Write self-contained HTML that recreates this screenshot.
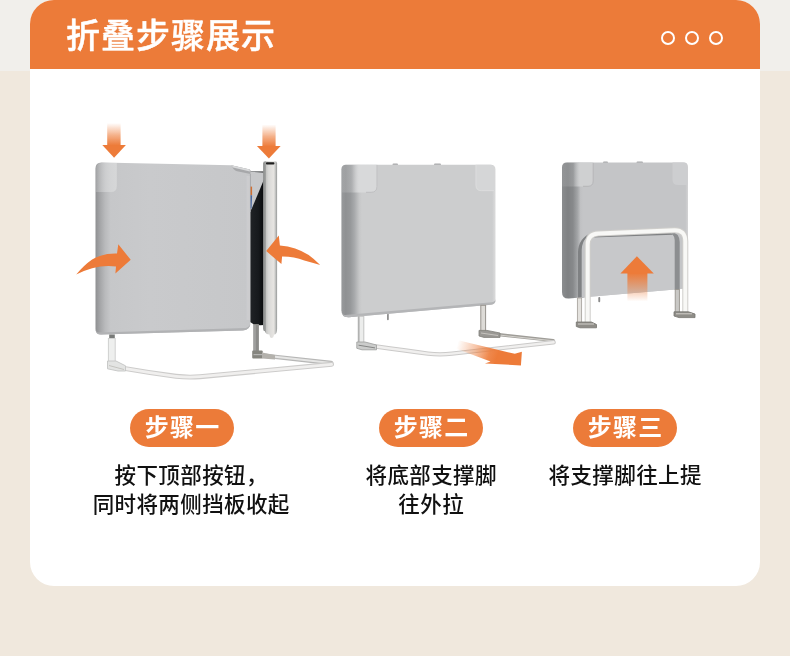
<!DOCTYPE html>
<html lang="zh-CN">
<head>
<meta charset="utf-8">
<title>折叠步骤展示</title>
<style>
*{margin:0;padding:0;box-sizing:border-box}
html,body{width:790px;height:656px;overflow:hidden}
body{position:relative;background:#f0e8dd;font-family:"Liberation Sans","Noto Sans CJK SC",sans-serif;color:#161616}
.topbg{position:absolute;left:0;top:0;width:790px;height:70.5px;background:#f1efeb}
.card{position:absolute;left:30px;top:0;width:730px;height:586px;background:#fff;border-radius:24px;overflow:hidden}
.head{position:absolute;left:0;top:0;width:730px;height:69px;background:#ec7b39}
.title{will-change:transform;position:absolute;left:66px;top:11px;height:50px;line-height:50px;font-size:34px;font-weight:500;-webkit-text-stroke:0.45px #fff;color:#fff;white-space:nowrap;letter-spacing:1px}
.dot{position:absolute;top:31px;width:14px;height:14px;border:2px solid #fff;border-radius:50%}
.art{position:absolute;left:0;top:0;width:790px;height:656px}
.badge{will-change:transform;position:absolute;top:408.5px;width:104px;height:37.5px;border-radius:19px;background:#ec7b39;color:#fff;font-size:24px;font-weight:700;line-height:37.5px;text-align:center;white-space:nowrap;letter-spacing:1.3px;padding-left:1.3px}
.desc{will-change:transform;position:absolute;font-size:21.5px;font-weight:500;letter-spacing:0.4px;padding-left:0.4px;line-height:30px;height:30px;text-align:center;white-space:nowrap;color:#111}
.l1{top:460.500px}
.l2{top:490px}
</style>
</head>
<body>
<div class="topbg"></div>
<div class="card"><div class="head"></div></div>
<div class="title">折叠步骤展示</div>
<div class="dot" style="left:661px"></div>
<div class="dot" style="left:685px"></div>
<div class="dot" style="left:709px"></div>
<svg class="art" viewBox="0 0 790 656">
<defs>
<linearGradient id="gdown" x1="0" y1="0" x2="0" y2="1"><stop offset="0" stop-color="#ed7b39" stop-opacity="0"/><stop offset="0.55" stop-color="#ed7b39" stop-opacity="0.6"/><stop offset="1" stop-color="#ed7b39"/></linearGradient>
<linearGradient id="gup" x1="0" y1="1" x2="0" y2="0"><stop offset="0" stop-color="#ed7b39" stop-opacity="0"/><stop offset="0.5" stop-color="#ed7b39" stop-opacity="0.5"/><stop offset="1" stop-color="#ed7b39"/></linearGradient>
<linearGradient id="gpull" gradientUnits="userSpaceOnUse" x1="458" y1="342" x2="498" y2="354"><stop offset="0" stop-color="#ed7b39" stop-opacity="0"/><stop offset="0.45" stop-color="#ed7b39" stop-opacity="0.45"/><stop offset="0.8" stop-color="#ed7b39" stop-opacity="0.9"/><stop offset="1" stop-color="#ed7b39"/></linearGradient>
<linearGradient id="p1" gradientUnits="userSpaceOnUse" x1="95" y1="0" x2="251" y2="0"><stop offset="0" stop-color="#8c8d8f"/><stop offset="0.03" stop-color="#a3a4a6"/><stop offset="0.065" stop-color="#b9babc"/><stop offset="0.1" stop-color="#c6c7c9"/><stop offset="0.35" stop-color="#c9cacc"/><stop offset="1" stop-color="#c6c7c9"/></linearGradient>
<linearGradient id="pt1" gradientUnits="userSpaceOnUse" x1="96" y1="0" x2="117" y2="0"><stop offset="0" stop-color="#d6d7d8" stop-opacity="0.25"/><stop offset="0.5" stop-color="#d6d7d8" stop-opacity="0.7"/><stop offset="1" stop-color="#d6d7d8" stop-opacity="1"/></linearGradient>
<linearGradient id="p2" gradientUnits="userSpaceOnUse" x1="341" y1="0" x2="496" y2="0"><stop offset="0" stop-color="#999b9d"/><stop offset="0.03" stop-color="#8f9193"/><stop offset="0.06" stop-color="#96989a"/><stop offset="0.085" stop-color="#a6a8aa"/><stop offset="0.118" stop-color="#c6c7c8"/><stop offset="0.135" stop-color="#cccdce"/><stop offset="0.975" stop-color="#cccdce"/><stop offset="1" stop-color="#dedede"/></linearGradient>
<linearGradient id="pt2" gradientUnits="userSpaceOnUse" x1="341" y1="0" x2="361" y2="0"><stop offset="0" stop-color="#d8d9da" stop-opacity="0.15"/><stop offset="0.55" stop-color="#d8d9da" stop-opacity="0.3"/><stop offset="0.9" stop-color="#d8d9da" stop-opacity="1"/></linearGradient>
<linearGradient id="p3" gradientUnits="userSpaceOnUse" x1="561.500" y1="0" x2="688.500" y2="0"><stop offset="0" stop-color="#8c8e90"/><stop offset="0.05" stop-color="#7f8183"/><stop offset="0.09" stop-color="#87898b"/><stop offset="0.125" stop-color="#a2a4a6"/><stop offset="0.15" stop-color="#c0c1c3"/><stop offset="0.17" stop-color="#c4c5c7"/><stop offset="0.975" stop-color="#c4c5c7"/><stop offset="1" stop-color="#d6d6d7"/></linearGradient>
<linearGradient id="pt3" gradientUnits="userSpaceOnUse" x1="562" y1="0" x2="581" y2="0"><stop offset="0" stop-color="#cfd0d1" stop-opacity="0.12"/><stop offset="0.6" stop-color="#cfd0d1" stop-opacity="0.25"/><stop offset="0.95" stop-color="#cfd0d1" stop-opacity="1"/></linearGradient>
<linearGradient id="tube" gradientUnits="userSpaceOnUse" x1="263" y1="0" x2="277.100" y2="0"><stop offset="0" stop-color="#8c8e8d"/><stop offset="0.17" stop-color="#9b9d9c"/><stop offset="0.25" stop-color="#c9c9c7"/><stop offset="0.4" stop-color="#d9d9d7"/><stop offset="0.74" stop-color="#e6e4e1"/><stop offset="0.86" stop-color="#d0d0ce"/><stop offset="0.93" stop-color="#aaacab"/><stop offset="1" stop-color="#9fa1a0"/></linearGradient>
<linearGradient id="dk" gradientUnits="userSpaceOnUse" x1="251" y1="0" x2="263.500" y2="0"><stop offset="0" stop-color="#1f2225"/><stop offset="0.6" stop-color="#16191c"/><stop offset="1" stop-color="#0a0b0d"/></linearGradient>
</defs>

<!-- step 1 -->
<g>
<path d="M250 171.500 H264 V325 Q258 325.500 254 324.500 L250 322Z" fill="url(#dk)"/>
<path d="M250 171.800 L264 172.500 V179.500 L251.400 209.500 L250 209.500Z" fill="#c7c8ca"/>
<path d="M101.500 162.600 L231.400 165.300 L249.700 169.500 Q250.500 170 250.500 171 V322 Q250.500 330 243 330.400 L101 334.600 Q95.500 334.600 95.500 329 V168.600 Q95.500 162.600 101.500 162.600Z" fill="url(#p1)"/>
<path d="M231.400 165.300 L249.700 169.500 Q250.500 170 250.500 171 V174 L236 170.900 Q233 169.500 231.400 165.300Z" fill="#a7a8aa"/>
<path d="M231.400 165.300 L249.700 169.500 L249.900 171.400 L233 167.600Z" fill="#d8d9da"/>
<path d="M250.400 174 V212" stroke="#a4a5a7" stroke-width="0.900" fill="none"/>
<path d="M250.600 186.600 h1.500 v8.600 h-1.500z" fill="#cf6f33"/>
<path d="M250.600 195.200 h1.500 l-0.500 13.300 h-1z" fill="#4a68a0"/>
<path d="M246.500 176 H250 V320 H246.500Z" fill="#d2d3d4" opacity="0.45"/>
<path d="M101.500 163 H116.800 V186 Q116.800 192 111 192 H95.800 V168.600 Q95.800 163 101.500 163Z" fill="url(#pt1)"/>
<path d="M98 332.400 L246 328 Q250.500 326.500 250.500 322 Q250.500 330 243 330.400 L101 334.600 Q96 334.600 95.500 329 Q96.500 332.400 98 332.400Z" fill="#b1b2b4"/>
<rect x="263.100" y="161.300" width="14" height="170" rx="2.200" fill="url(#tube)"/>
<path d="M263.300 322 H276.900 V330 Q276.900 334.300 274.200 334.600 L273.200 337.200 Q271.600 338.800 270.100 337.200 L269.400 334.500 Q265.800 334.500 264.800 331 L263.300 325.500Z" fill="url(#tube)"/>
<rect x="266" y="162.300" width="8.400" height="2.300" rx="0.800" fill="#1d1d1d"/>
<rect x="253.300" y="324" width="5.600" height="28" fill="#8b8b89"/>
<rect x="254.200" y="325" width="1.500" height="28" fill="#a5a5a3"/>
<rect x="109.200" y="334.500" width="5.600" height="4.200" fill="#787a78"/>
<rect x="108.400" y="338.500" width="6.800" height="24" fill="#eeefee" stroke="#d0d1d0" stroke-width="1"/>
<path d="M266 355.800 L331.200 363" fill="none" stroke="#b7b7b6" stroke-width="4.300" stroke-linecap="round"/>
<path d="M266 355.800 L331.200 363" fill="none" stroke="#e6e6e5" stroke-width="2.100" stroke-linecap="round"/>
<path d="M331.600 364.300 L200 376.700 Q188 377.700 176 376.300 Q150 372.800 124 368.300" fill="none" stroke="#cdcccb" stroke-width="4.900" stroke-linecap="round" stroke-linejoin="round"/>
<path d="M331.600 364.300 L200 376.700 Q188 377.700 176 376.300 Q150 372.800 124 368.300" fill="none" stroke="#f0efee" stroke-width="2.700" stroke-linecap="round" stroke-linejoin="round"/>
<path d="M107.500 361 H116 L125.500 365.800 V371 H118 L107.500 368.800Z" fill="#e3e4e3" stroke="#c4c5c4" stroke-width="0.900"/>
<path d="M109 365.500 L124 369.500" stroke="#bdbbb6" stroke-width="0.800" fill="none"/>
<rect x="252.200" y="350.600" width="10.500" height="8" rx="1" fill="#85857f"/>
<path d="M262 352.500 L275 355 V359.500 L262 358.600Z" fill="#b3b1ac"/>
<rect x="253.500" y="354" width="9" height="1.200" fill="#b5b5b3"/>
<rect x="107.200" y="123" width="13.400" height="22.500" fill="url(#gdown)"/>
<path d="M102.300 145 H125.900 L114.100 157.800Z" fill="#ed7b39"/>
<rect x="262.400" y="124.500" width="13.200" height="22" fill="url(#gdown)"/>
<path d="M256.900 146 H280.600 L268.900 158.500Z" fill="#ed7b39"/>
<path d="M76.200 274.400 Q84 265 92.100 259.400 Q103 253.200 117 253.600 L118.300 244.300 L130.700 259.800 L115.400 273.500 L116 266.400 Q104 264.800 92.100 268.200 Q84 270.500 76.200 274.400Z" fill="#ed7b39"/>
<path d="M320.200 264.900 Q314 259 308.700 255.100 Q296 246.500 279.900 245.400 L278.800 235.600 L266.200 251.100 L281.400 264 L282.100 256.400 Q294 256.300 304.300 260.400 Q312 262.500 320.200 264.900Z" fill="#ed7b39"/>
</g>

<!-- step 2 -->
<g>
<rect x="392.500" y="163.600" width="5.500" height="2" rx="1" fill="#a9aaac"/>
<rect x="434" y="163.600" width="7" height="2" rx="1" fill="#a9aaac"/>
<path d="M346 164.800 H490.500 Q495.500 164.800 495.500 169.500 V300 Q495.500 304.300 491 304.800 L349 317.200 Q341.400 317.600 341.400 310.500 V169.500 Q341.400 164.800 346 164.800Z" fill="url(#p2)"/>
<path d="M346 164.800 H377.500 V186.500 Q377.500 192.600 371 192.600 H341.600 V169.500 Q341.600 164.800 346 164.800Z" fill="url(#pt2)"/>
<path d="M377 165 V186.500 Q377 192.300 371 192.300 H366" fill="none" stroke="#b7b8ba" stroke-width="0.800"/>
<path d="M475.600 164.800 H490.500 Q494.600 164.800 494.600 169.500 V191 H481.500 Q475.600 191 475.600 185Z" fill="#d5d6d7"/>
<path d="M476 165 V185 Q476 190.700 481.500 190.700 H494" fill="none" stroke="#dddede" stroke-width="0.800"/>
<path d="M345 315 L492 302.300 Q495.500 301.500 495.500 299 V300 Q495.500 304.300 491 304.800 L349 317.200 Q343 317.500 341.800 313 Q343 315.200 345 315Z" fill="#b4b5b7"/>
<rect x="387" y="313.700" width="1.800" height="6.500" rx="0.900" fill="#909090"/>
<rect x="358.200" y="316.300" width="5.600" height="27" fill="#ecedec" stroke="#c3c4c3" stroke-width="1"/>
<rect x="358" y="316.300" width="1.600" height="26" fill="#b1b2b1"/>
<rect x="480.800" y="305.300" width="4.800" height="26" fill="#dddbd7" stroke="#96938d" stroke-width="1"/>
<path d="M499 334.600 L553.300 340.500" fill="none" stroke="#9f9d98" stroke-width="3.200" stroke-linecap="round"/>
<path d="M499 335 L553.300 340.900" fill="none" stroke="#d3d1cc" stroke-width="1.100" stroke-linecap="round"/>
<path d="M376 346.500 Q405 350.600 428 353.600 Q440 355.200 452 353.600 L553.600 342.300" fill="none" stroke="#cbcac9" stroke-width="4.400" stroke-linecap="round" stroke-linejoin="round"/>
<path d="M376 346.500 Q405 350.600 428 353.600 Q440 355.200 452 353.600 L553.600 342.300" fill="none" stroke="#f0efee" stroke-width="2.400" stroke-linecap="round" stroke-linejoin="round"/>
<path d="M356.800 342 H365 L376.500 345 V349.800 H362 L356.800 348.300Z" fill="#cbcccb" stroke="#a3a4a3" stroke-width="0.900"/>
<path d="M358.500 345.200 L375 347.900" stroke="#858685" stroke-width="1"/>
<path d="M479 330.400 H487 L500 333 V337.400 H484 L479 336Z" fill="#9a9894" stroke="#7f7d78" stroke-width="0.800"/>
<path d="M481 333 L498 335.500" stroke="#d0cec9" stroke-width="0.800"/>
<path d="M450 338.300 L514.800 353.800 L521.900 351.700 L520.900 365.400 L484.900 363.400 L490.500 361.400 L453 347.500Z" fill="url(#gpull)"/>
</g>

<!-- step 3 -->
<g>
<rect x="603" y="161.400" width="5" height="2" rx="1" fill="#a4a5a7"/>
<rect x="636.500" y="161.400" width="6.500" height="2" rx="1" fill="#a4a5a7"/>
<path d="M567 162.600 H683.500 Q688 162.600 688 167 V284.500 Q688 288.400 684 288.800 L569 298.600 Q562 299 562 292 V167.600 Q562 162.600 567 162.600Z" fill="url(#p3)"/>
<path d="M566.500 162.600 H593.500 V181 Q593.500 186.600 588 186.600 H562.200 V167 Q562.200 162.600 566.500 162.600Z" fill="url(#pt3)"/>
<path d="M593.200 163 V181 Q593.200 186.300 588 186.300 H583" fill="none" stroke="#aeafb1" stroke-width="0.800"/>
<path d="M672.500 162.600 H683.500 Q687.300 162.600 687.300 167 V185 H678 Q672.500 185 672.500 179.500Z" fill="#cdced0"/>
<!-- inner recess -->
<path d="M581.500 297.600 V246 Q581.500 236 592 235.300 L667 232.500 Q675 232.500 675 241 V289.600Z" fill="#c7c8ca"/>
<path d="M578 297.800 V252 Q578.500 238 591 233.200 L597 233.500 Q585 235 584.500 246 V297.300Z" fill="#7f8183"/>
<path d="M581.700 297.600 V250 Q582 241 587 237.500 L588 240 Q586.300 243 586.300 250 V297.200Z" fill="#c3c4c6"/>
<path d="M592 235.400 L668 232.400 Q672 232.600 673 234.800 L592 237.600Z" fill="#7f8183"/>
<path d="M667 232.300 Q674 232.500 674.700 240 V289.700 L679.700 289.300 V242 Q679.500 232.500 670 231.500Z" fill="#8c8e90"/>
<rect x="598.300" y="297" width="1.900" height="5.200" rx="0.900" fill="#8a8a8a"/>
<!-- legs -->
<rect x="577.400" y="298" width="4.200" height="25" fill="#e4e2de" stroke="#aaa6a0" stroke-width="0.900"/>
<rect x="675.200" y="289.500" width="4.200" height="23.500" fill="#c9c8c5" stroke="#98948e" stroke-width="0.900"/>
<path d="M587.700 323 V244.500 Q587.700 233.800 598.500 233.400 L674.500 230.200 Q685.300 230 685.300 241.500 V313" fill="none" stroke="#cfcecb" stroke-width="6" stroke-linejoin="round"/>
<path d="M587.700 323 V244.500 Q587.700 233.800 598.500 233.400 L674.500 230.200 Q685.300 230 685.300 241.500 V313" fill="none" stroke="#f8f8f6" stroke-width="4" stroke-linejoin="round"/>
<path d="M576.300 322 H591.500 L596.500 324.500 V327.800 H580 L576.300 326.500Z" fill="#8f8d88" stroke="#75736e" stroke-width="0.800"/>
<path d="M578 324 H594" stroke="#d9d7d2" stroke-width="0.900"/>
<path d="M674 311.800 H688.500 L695 314 V317.600 H679 L674 316Z" fill="#8f8d88" stroke="#75736e" stroke-width="0.800"/>
<path d="M676 313.800 H692" stroke="#d9d7d2" stroke-width="0.900"/>
<rect x="627.400" y="273" width="20" height="28.500" fill="url(#gup)"/>
<path d="M620.400 273.500 H653.800 L636.900 256.200Z" fill="#ed7b39"/>
</g>
</svg>

<div class="badge" style="left:129.700px">步骤一</div>
<div class="badge" style="left:379px">步骤二</div>
<div class="badge" style="left:573.200px">步骤三</div>

<div class="desc l1" style="left:91px;width:200px">按下顶部按钮，</div>
<div class="desc l2" style="left:91px;width:200px">同时将两侧挡板收起</div>
<div class="desc l1" style="left:331px;width:200px">将底部支撑脚</div>
<div class="desc l2" style="left:331px;width:200px">往外拉</div>
<div class="desc l1" style="left:525px;width:200px">将支撑脚往上提</div>
</body>
</html>
